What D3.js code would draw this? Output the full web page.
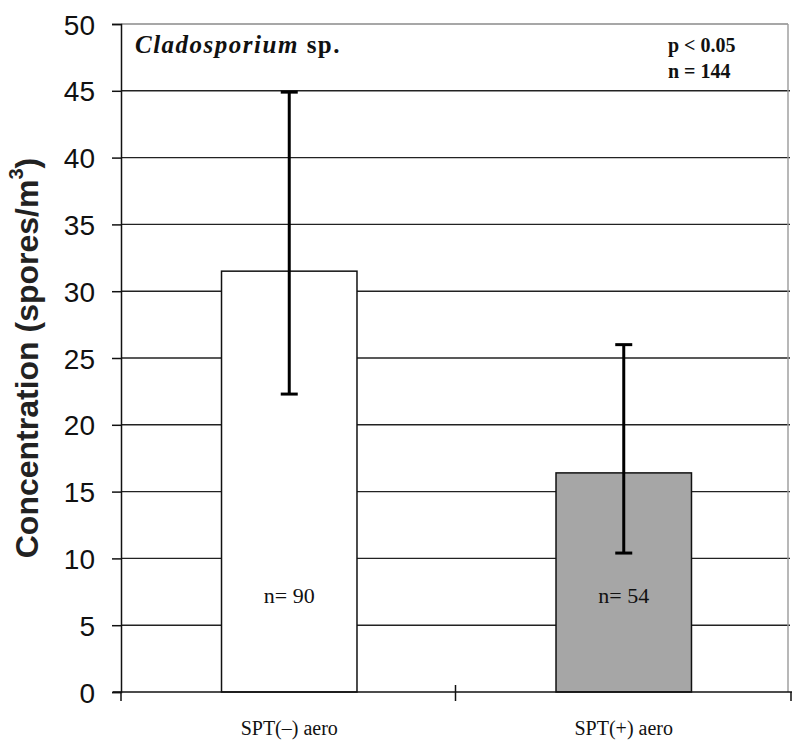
<!DOCTYPE html>
<html><head><meta charset="utf-8">
<script src="https://cdn.jsdelivr.net/npm/d3@7"></script>
<style>body{margin:0;background:#fff}svg{display:block}</style>
</head><body>
<svg id="chart" width="800" height="748"></svg>
<script>
const categories = ["SPT(\u2013) aero", "SPT(+) aero"];
const means = [31.5, 16.4];
const errLow = [22.3, 10.4];
const errHigh = [44.9, 26.0];
const groupN = ["n= 90", "n= 54"];
const barFills = ["#ffffff", "#a6a6a6"];
const yTicks = [0, 5, 10, 15, 20, 25, 30, 35, 40, 45, 50];

const svg = d3.select("#chart");
const m = {left: 121, right: 790, top: 24, bottom: 692};

const x = d3.scaleBand().domain(categories).range([m.left, m.right]).paddingInner(0).paddingOuter(0);
const y = d3.scaleLinear().domain([0, 50]).range([m.bottom, m.top]);

// gridlines
svg.append("g").selectAll("line").data(yTicks.filter(d => d > 0 && d < 50)).join("line")
  .attr("x1", m.left).attr("x2", m.right)
  .attr("y1", d => y(d)).attr("y2", d => y(d))
  .attr("stroke", "#222").attr("stroke-width", 1.4);
// top & right border
svg.append("line").attr("x1", m.left).attr("x2", m.right - 2).attr("y1", y(50)).attr("y2", y(50))
  .attr("stroke", "#8a8a8a").attr("stroke-width", 1.4);
svg.append("line").attr("x1", m.right - 2).attr("x2", m.right - 2).attr("y1", y(50)).attr("y2", y(0))
  .attr("stroke", "#9a9a9a").attr("stroke-width", 1.4);

// bars
const bw = x.bandwidth() * 0.405;
svg.append("g").selectAll("rect").data(categories).join("rect")
  .attr("x", (d) => x(d) + x.bandwidth() / 2 - bw / 2 + 1)
  .attr("width", bw)
  .attr("y", (d, i) => y(means[i]))
  .attr("height", (d, i) => y(0) - y(means[i]))
  .attr("fill", (d, i) => barFills[i])
  .attr("stroke", "#111").attr("stroke-width", 1.5);

// error bars
const eb = svg.append("g").attr("stroke", "#000").attr("stroke-width", 3);
categories.forEach((c, i) => {
  const cx = x(c) + x.bandwidth() / 2 + 1;
  eb.append("line").attr("x1", cx).attr("x2", cx).attr("y1", y(errLow[i])).attr("y2", y(errHigh[i]));
  eb.append("line").attr("x1", cx - 8.5).attr("x2", cx + 8.5).attr("y1", y(errLow[i])).attr("y2", y(errLow[i]));
  eb.append("line").attr("x1", cx - 8.5).attr("x2", cx + 8.5).attr("y1", y(errHigh[i])).attr("y2", y(errHigh[i]));
});

// n labels
svg.append("g").selectAll("text").data(groupN).join("text")
  .attr("x", (d, i) => x(categories[i]) + x.bandwidth() / 2 + 1)
  .attr("y", 603)
  .attr("text-anchor", "middle")
  .attr("font-family", "Liberation Serif, Times New Roman, serif")
  .attr("font-size", 22).attr("fill", "#111")
  .text(d => d);

// y axis
const yAxis = d3.axisLeft(y).tickValues(yTicks).tickSize(9).tickPadding(17).tickFormat(d3.format("d"));
const yg = svg.append("g").attr("transform", `translate(${m.left},0)`).call(yAxis);
yg.select(".domain").attr("stroke", "#111").attr("stroke-width", 1.5);
yg.selectAll(".tick line").attr("stroke", "#111").attr("stroke-width", 1.5);
yg.selectAll(".tick text").attr("font-family", "Liberation Sans, Arial, sans-serif")
  .attr("font-size", 28).attr("fill", "#111").attr("dy", "0.36em");

// x axis
const xg = svg.append("g");
xg.append("line").attr("x1", m.left - 8).attr("x2", m.right + 2).attr("y1", y(0)).attr("y2", y(0))
  .attr("stroke", "#111").attr("stroke-width", 1.5);
const bounds = [m.left, x(categories[1]), m.right + 1];
xg.selectAll("line.tk").data(bounds).join("line").attr("class", "tk")
  .attr("x1", d => d).attr("x2", d => d)
  .attr("y1", (d, i) => i === 1 ? y(0) - 7 : y(0)).attr("y2", y(0) + 9)
  .attr("stroke", "#111").attr("stroke-width", 1.5);
xg.selectAll("text").data(categories).join("text")
  .attr("x", d => x(d) + x.bandwidth() / 2 + 1)
  .attr("y", 735)
  .attr("text-anchor", "middle")
  .attr("font-family", "Liberation Serif, Times New Roman, serif")
  .attr("font-size", 20).attr("fill", "#111")
  .text(d => d);

// y axis title
const yt = svg.append("text")
  .attr("transform", `translate(38,358) rotate(-90)`)
  .attr("text-anchor", "middle")
  .attr("font-family", "Liberation Sans, Arial, sans-serif")
  .attr("font-size", 32).attr("font-weight", "bold").attr("fill", "#222");
yt.append("tspan").text("Concentration (spores/m");
yt.append("tspan").attr("font-size", 20).attr("dy", "-0.75em").text("3");
yt.append("tspan").attr("dy", "0.47em").text(")");

// title
const t = svg.append("text").attr("x", 135).attr("y", 53)
  .attr("font-family", "Liberation Serif, Times New Roman, serif")
  .attr("font-size", 25).attr("font-weight", "bold").attr("fill", "#111")
  .attr("letter-spacing", 1.5);
t.append("tspan").attr("font-style", "italic").text("Cladosporium");
t.append("tspan").text(" sp.");

// stats
const st = svg.append("g").attr("font-family", "Liberation Serif, Times New Roman, serif")
  .attr("font-size", 20).attr("font-weight", "bold").attr("fill", "#111");
st.append("text").attr("x", 668).attr("y", 52).text("p < 0.05");
st.append("text").attr("x", 668).attr("y", 78).text("n = 144");
</script>
</body></html>
